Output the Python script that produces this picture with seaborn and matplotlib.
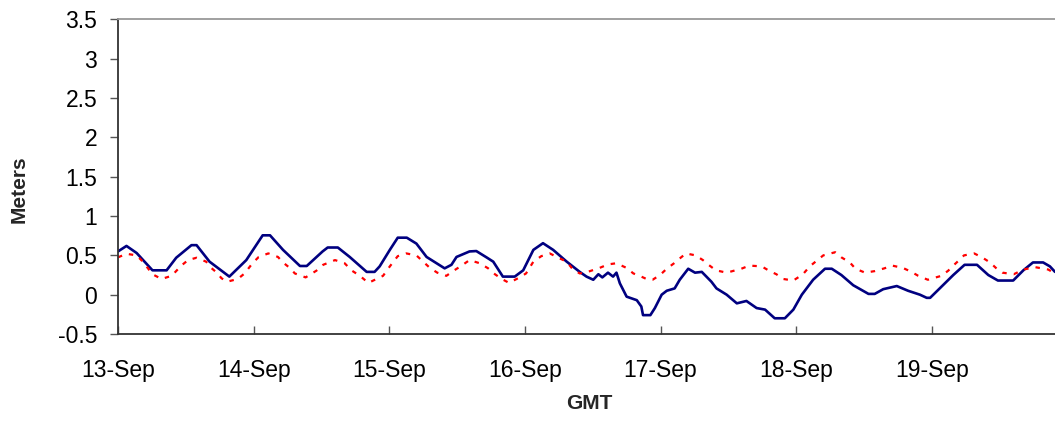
import pandas as pd
import matplotlib
matplotlib.use('Agg')
import matplotlib.pyplot as plt
import matplotlib.dates as mdates
import seaborn as sns

# Начало ряда (13-Sep, GMT)
start = pd.Timestamp('2003-09-13 00:00')

# Наблюдаемый уровень (синяя линия): часы от начала и метры
obs_hours = [0, 1.5, 3.3, 6.1, 8.6, 10.3, 13.0, 13.9, 16.2, 19.7, 22.7, 25.6, 26.9,
             29.2, 32.2, 33.4, 36.2, 37.1, 38.9, 41.0, 44.0, 45.4, 46.3, 48.1, 49.5,
             51.1, 52.8, 54.6, 57.8, 59.0, 59.9, 62.2, 63.4, 65.2, 66.4, 68.1, 70.2,
             71.7, 73.5, 75.2, 77.0, 79.4, 81.7, 82.9, 84.1, 85.0, 85.7, 86.7, 87.6,
             88.2, 88.8, 90.0, 91.8, 92.6, 92.9, 94.2, 95.0, 96.2, 97.1, 98.5, 99.4,
             100.9, 102.1, 103.3, 105.0, 105.9, 107.7, 109.5, 111.2, 113.0, 114.5,
             116.2, 118.0, 119.5, 121.0, 123.0, 125.1, 126.3, 128.0, 130.1, 132.8,
             133.9, 135.4, 137.8, 139.8, 141.9, 143.1, 143.7, 145.4, 147.8, 149.8,
             152.0, 154.0, 155.7, 158.4, 160.2, 161.9, 163.7, 164.9, 165.8]
obs_m = [0.55, 0.62, 0.53, 0.31, 0.31, 0.47, 0.63, 0.63, 0.42, 0.23, 0.44, 0.755, 0.755,
         0.57, 0.365, 0.365, 0.55, 0.60, 0.60, 0.48, 0.29, 0.29, 0.36, 0.57, 0.725,
         0.725, 0.65, 0.48, 0.335, 0.38, 0.48, 0.55, 0.555, 0.475, 0.42, 0.23, 0.23,
         0.31, 0.57, 0.655, 0.57, 0.42, 0.29, 0.23, 0.19, 0.26, 0.22, 0.28, 0.23,
         0.28, 0.145, -0.025, -0.07, -0.15, -0.26, -0.26, -0.17, 0.0, 0.05, 0.08, 0.19,
         0.33, 0.28, 0.29, 0.165, 0.08, 0.0, -0.11, -0.08, -0.17, -0.19,
         -0.30, -0.30, -0.19, 0.0, 0.19, 0.33, 0.33, 0.25, 0.12, 0.01,
         0.01, 0.07, 0.11, 0.05, 0.0, -0.04, -0.04, 0.08, 0.25, 0.38,
         0.38, 0.25, 0.18, 0.18, 0.31, 0.41, 0.41, 0.36, 0.29]

# Прогноз (красный пунктир)
pred_hours = [0, 1.5, 3.3, 4.4, 6.1, 7.7, 9.5, 11.2, 12.4, 13.9, 15.6, 16.5, 17.5, 18.3,
              19.3, 21.2, 22.4, 23.8, 24.9, 26.6, 28.3, 29.2, 30.4, 31.3, 33.2, 35.1,
              36.3, 38.4, 40.1, 41.3, 42.8, 44.3, 46.9, 48.1, 49.5, 51.0, 52.8, 54.0,
              55.2, 56.5, 58.1, 59.4, 60.8, 62.2, 64.0, 65.5, 66.7, 67.9, 69.2, 70.8,
              72.2, 73.5, 74.9, 76.4, 78.2, 79.4, 80.4, 81.7, 83.1, 85.2, 86.7, 88.2,
              90.0, 91.2, 92.3, 93.8, 94.6, 95.9, 97.1, 98.4, 99.3, 100.5, 102.2, 103.5,
              104.4, 105.8, 107.7, 110.3, 111.7, 113.9, 115.2, 116.5, 117.7, 119.5,
              121.2, 122.4, 123.6, 124.8, 126.9, 128.0, 129.5, 130.5, 132.2, 133.9,
              135.6, 137.0, 138.9, 140.4, 141.6, 143.3, 145.7, 146.9, 147.8, 148.7,
              149.7, 151.5, 153.0, 154.3, 155.5, 156.5, 158.5, 160.2, 162.3, 164.6, 165.8]
pred_m = [0.475, 0.52, 0.50, 0.42, 0.26, 0.20, 0.24, 0.37, 0.44, 0.47, 0.42, 0.34, 0.28, 0.21,
          0.165, 0.20, 0.27, 0.40, 0.48, 0.525, 0.48, 0.41, 0.34, 0.27, 0.22, 0.305,
          0.38, 0.44, 0.40, 0.31, 0.24, 0.15, 0.24, 0.36, 0.49, 0.525, 0.50, 0.42,
          0.34, 0.28, 0.24, 0.305, 0.37, 0.44, 0.40, 0.335, 0.26, 0.20, 0.15, 0.21,
          0.27, 0.42, 0.49, 0.525, 0.46, 0.42, 0.33, 0.27, 0.29, 0.34, 0.385, 0.40,
          0.34, 0.27, 0.24, 0.19, 0.19, 0.25, 0.33, 0.40, 0.455, 0.525, 0.50, 0.44,
          0.385, 0.31, 0.28, 0.33, 0.37, 0.36, 0.305, 0.26, 0.20, 0.18,
          0.26, 0.36, 0.43, 0.50, 0.54, 0.475, 0.41, 0.33, 0.28, 0.30,
          0.335, 0.37, 0.34, 0.29, 0.24, 0.19, 0.24, 0.305, 0.37, 0.43,
          0.50, 0.525, 0.47, 0.41, 0.33, 0.28, 0.26, 0.32, 0.35, 0.32, 0.27]

y_ticks = [-0.5, 0, 0.5, 1, 1.5, 2, 2.5, 3, 3.5]
y_tick_labels = ['-0.5', '0', '0.5', '1', '1.5', '2', '2.5', '3', '3.5']
x_end_hours = 165.8

obs = pd.DataFrame({'time': start + pd.to_timedelta(obs_hours, unit='h'), 'meters': obs_m})
pred = pd.DataFrame({'time': start + pd.to_timedelta(pred_hours, unit='h'), 'meters': pred_m})

sns.set_style('white')
plt.rcParams['font.family'] = ['Liberation Sans', 'DejaVu Sans']

fig = plt.figure(figsize=(10.55, 4.21), dpi=100)
ax = fig.add_axes([118 / 1055, 1 - 334 / 421, (1055 - 118) / 1055, (334 - 19.5) / 421])

sns.lineplot(data=obs, x='time', y='meters', ax=ax, color='#000080', lw=1.9)
sns.lineplot(data=pred, x='time', y='meters', ax=ax, color='#ff0000', lw=1.6,
             linestyle=(0, (2, 3.2)))

ax.set_xlim(start, start + pd.Timedelta(hours=x_end_hours))
ax.set_ylim(-0.5, 3.5)
ax.set_yticks(y_ticks)
ax.set_yticklabels(y_tick_labels)
ax.xaxis.set_major_locator(mdates.DayLocator())
ax.xaxis.set_major_formatter(mdates.DateFormatter('%d-%b'))

ax.tick_params(axis='x', direction='in', length=6, width=1, color='#555555',
               labelsize=16.5, pad=18, labelcolor='black')
ax.tick_params(axis='y', direction='out', length=6, width=1, color='#555555',
               labelsize=16.5, pad=9, labelcolor='black')
ax.tick_params(left=True, bottom=True)

for side in ['left', 'bottom']:
    ax.spines[side].set_color('#333333')
    ax.spines[side].set_linewidth(1.3)
ax.spines['top'].set_color('#999999')
ax.spines['top'].set_linewidth(1.3)
ax.spines['right'].set_visible(False)

ax.set_xlabel('GMT', fontsize=15, fontweight='bold')
ax.set_ylabel('Meters', fontsize=15, fontweight='bold')
ax.xaxis.set_label_coords(0.503, -0.19)
ax.yaxis.set_label_coords(-0.095, 0.46)

fig.savefig('out.png', dpi=100, facecolor='white')
plt.close(fig)
